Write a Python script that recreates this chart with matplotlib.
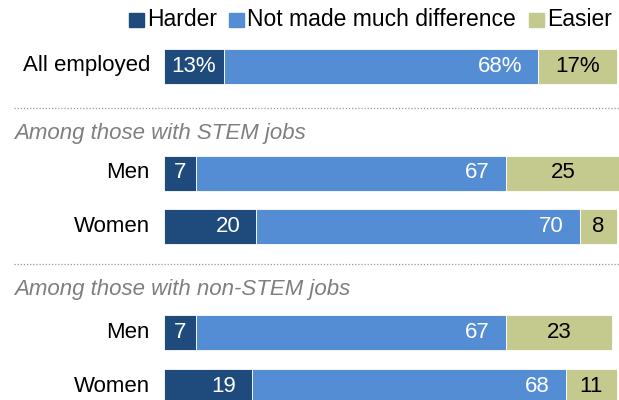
import matplotlib
matplotlib.use('Agg')
import matplotlib.pyplot as plt
from matplotlib.patches import Rectangle

plt.rcParams['font.family'] = ['Liberation Sans', 'DejaVu Sans']

# data
groups = ['All employed', 'Men', 'Women', 'Men', 'Women']
harder = [13, 7, 20, 7, 19]
no_diff = [68, 67, 70, 67, 68]
easier = [17, 25, 8, 23, 11]
sections = ['Among those with STEM jobs', 'Among those with non-STEM jobs']
legend_labels = ['Harder', 'Not made much difference', 'Easier']

c_hard = '#1f4a7c'
c_mid = '#548dd4'
c_easy = '#c4c98e'

# layout (pixel rows)
ypos = [66, 173, 226, 332, 386]
bar_h = 35
sec_y = [133, 289]
line_y = [108, 264]

fig = plt.figure(figsize=(6.19, 4.0), dpi=100)
# overlay in pixel units for labels
lay = fig.add_axes([0, 0, 1, 1])
lay.set_xlim(0, 619)
lay.set_ylim(400, 0)
lay.axis('off')

# bar axes: 0..100 percent starting at px 164, 4.62 px per point
ax = fig.add_axes([164 / 619, 0, 462 / 619, 1])
ax.set_xlim(0, 100)
ax.set_ylim(400, 0)
ax.axis('off')
ax.patch.set_alpha(0)

left2 = [h + m for h, m in zip(harder, no_diff)]
ax.barh(ypos, harder, height=bar_h, color=c_hard, edgecolor='white', linewidth=0.6)
ax.barh(ypos, no_diff, left=harder, height=bar_h, color=c_mid, edgecolor='white', linewidth=0.6)
ax.barh(ypos, easier, left=left2, height=bar_h, color=c_easy, edgecolor='white', linewidth=0.6)

fs = 16
for i, y in enumerate(ypos):
    pct = '%' if i == 0 else ''
    h, m, e = harder[i], no_diff[i], easier[i]
    if h < 15:
        ax.text(h / 2, y, f'{h}{pct}', ha='center', va='center', color='white', fontsize=fs)
    else:
        ax.text(h - 3.5, y, f'{h}{pct}', ha='right', va='center', color='white', fontsize=fs)
    ax.text(h + m - 3.5, y, f'{m}{pct}', ha='right', va='center', color='white', fontsize=fs)
    ax.text(h + m + e / 2, y, f'{e}{pct}', ha='center', va='center', color='black', fontsize=fs)
    lay.text(150, y, groups[i], ha='right', va='center', color='black', fontsize=fs)

for s, y in zip(sections, sec_y):
    lay.text(14, y, s, ha='left', va='center', color='#7f7f7f', fontsize=fs, style='italic')
for y in line_y:
    lay.plot([14, 619], [y, y], color='#999999', linestyle=(0, (1, 1.5)), linewidth=0.9)

# legend
leg_x = [129, 229, 529]
for x, lab, c in zip(leg_x, legend_labels, [c_hard, c_mid, c_easy]):
    lay.add_patch(Rectangle((x, 13), 15, 14, color=c))
    lay.text(x + 18, 20, lab, ha='left', va='center', color='black', fontsize=16.5)

fig.savefig('out.png', dpi=100)
